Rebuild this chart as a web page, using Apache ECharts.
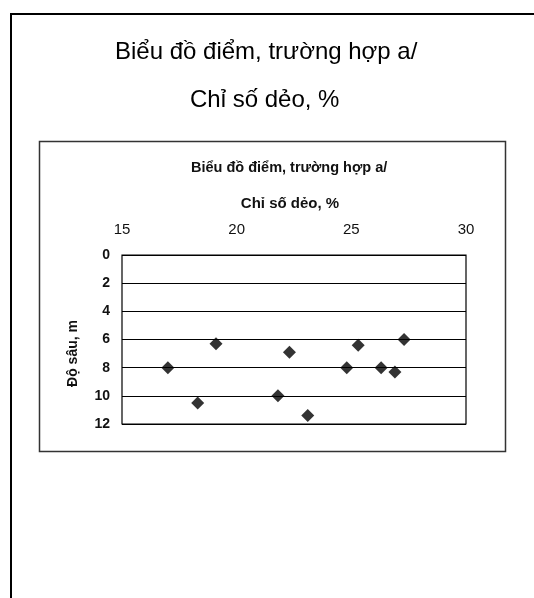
<!DOCTYPE html>
<html>
<head>
<meta charset="utf-8">
<script src="https://cdn.jsdelivr.net/npm/echarts@6/dist/echarts.min.js"></script>
<style>
html,body{margin:0;padding:0;background:#fff;}
#chart{width:534px;height:598px;}
</style>
</head>
<body>
<div id="chart"></div>
<script>
// Data
var plasticityIndex = [17.0, 18.3, 19.1, 21.8, 22.3, 23.1, 24.8, 25.3, 26.3, 26.9, 27.3];
var depth = [8.0, 10.5, 6.3, 10.0, 6.9, 11.4, 8.0, 6.4, 8.0, 8.3, 6.0];
var outerTitle = "Biểu đồ điểm, trường hợp a/";
var outerSubtitle = "Chỉ số dẻo, %";
var innerTitle = "Biểu đồ điểm, trường hợp a/";
var xAxisName = "Chỉ số dẻo, %";
var yAxisName = "Độ sâu, m";

var points = plasticityIndex.map(function (v, i) { return [v, depth[i]]; });

var chart = echarts.init(document.getElementById('chart'), null, {renderer: 'canvas'});
var font = "'Liberation Sans', Arial, sans-serif";
chart.setOption({
  animation: false,
  backgroundColor: '#ffffff',
  title: [
    {text: outerTitle, left: 110, top: 35, textStyle: {fontFamily: font, fontSize: 24, fontWeight: 'normal', color: '#000'}},
    {text: outerSubtitle, left: 185, top: 83, textStyle: {fontFamily: font, fontSize: 24, fontWeight: 'normal', color: '#000'}},
    {text: innerTitle, left: 186, top: 155, textStyle: {fontFamily: font, fontSize: 14.5, fontWeight: 'bold', color: '#111'}}
  ],
  graphic: [
    {type: 'polyline', shape: {points: [[11, 598], [11, 14], [534, 14]]}, style: {stroke: '#000', lineWidth: 2, fill: null}, silent: true},
    {type: 'rect', shape: {x: 39.5, y: 141.5, width: 466, height: 310}, style: {stroke: '#333', lineWidth: 1.5, fill: null}, silent: true}
  ],
  grid: {left: 122, right: 68, top: 255, bottom: 174, show: true, borderColor: '#000', borderWidth: 1.2, backgroundColor: 'transparent'},
  xAxis: {
    type: 'value', position: 'top', min: 15, max: 30, interval: 5,
    name: xAxisName, nameLocation: 'middle', nameGap: 44,
    nameTextStyle: {fontFamily: font, fontSize: 15, fontWeight: 'bold', color: '#111', padding: [0, 8, 0, 0]},
    axisLine: {show: false}, axisTick: {show: false}, splitLine: {show: false},
    axisLabel: {fontFamily: font, fontSize: 15, color: '#111', margin: 18}
  },
  yAxis: {
    type: 'value', inverse: true, min: 0, max: 12, interval: 2,
    name: yAxisName, nameLocation: 'middle', nameGap: 42, nameRotate: 90,
    nameTextStyle: {fontFamily: font, fontSize: 14, fontWeight: 'bold', color: '#111', padding: [0, 28, 0, 0]},
    axisLine: {show: false}, axisTick: {show: false},
    splitLine: {show: true, lineStyle: {color: '#000', width: 1.2}},
    axisLabel: {fontFamily: font, fontSize: 14, fontWeight: 'bold', color: '#111', margin: 12}
  },
  series: [{
    type: 'scatter', data: points, symbol: 'diamond', symbolSize: [13, 13],
    itemStyle: {color: '#000'}
  }]
});
</script>
</body>
</html>
